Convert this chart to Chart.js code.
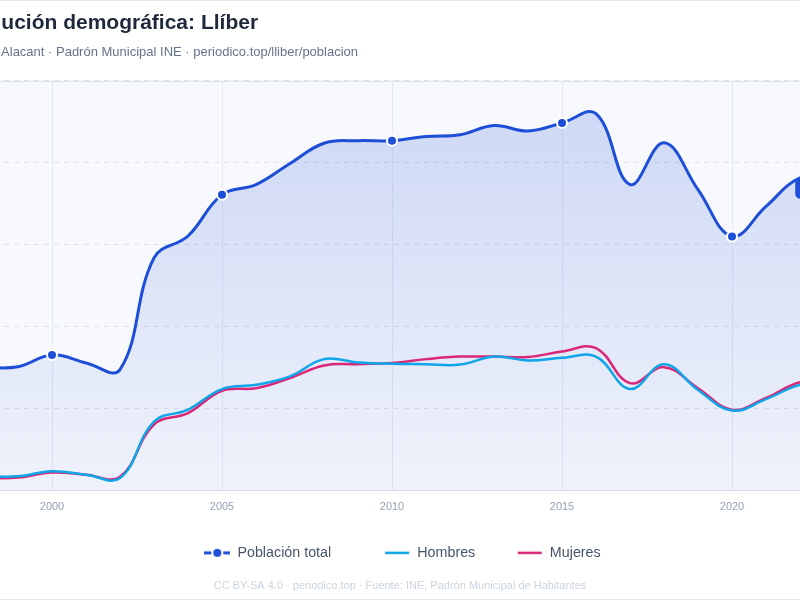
<!DOCTYPE html>
<html lang="es">
<head>
<meta charset="utf-8">
<title>Evolución demográfica: Llíber</title>
<script src="https://cdn.jsdelivr.net/npm/chart.js@4.4.1/dist/chart.umd.min.js"></script>
<style>
  html,body{margin:0;padding:0;background:#fff;overflow:hidden;width:800px;height:600px;}
  .card{position:absolute;left:-49px;top:0;width:896px;height:598px;border:1px solid #e2e8f0;background:#fff;}
  .card canvas{display:block;}
</style>
</head>
<body>
<div class="card"><canvas id="chart" width="896" height="598"></canvas></div>
<script>
// ===================== DATOS =====================
const years    = ['1998','1999','2000','2001','2002','2003','2004','2005','2006','2007','2008','2009','2010',
                  '2011','2012','2013','2014','2015','2016','2017','2018','2019','2020','2021','2022','2023'];
const totalPop = [520, 522, 550, 531, 515, 780, 832, 930, 954, 1004, 1052, 1058, 1058,
                  1068, 1072, 1094, 1081, 1100, 1122, 954, 1053, 942, 831, 902, 970, 975];
const hombres  = [262, 262, 274, 266, 258, 392, 420, 469, 479, 499, 540, 532, 529,
                  528, 527, 546, 537, 543, 546, 469, 528, 467, 418, 445, 479, 485];
const mujeres  = [258, 259, 271, 266, 261, 385, 412, 465, 471, 495, 525, 528, 531,
                  540, 546, 546, 545, 558, 566, 483, 521, 471, 420, 448, 485, 490];
const xLabelYears = ['2000','2005','2010','2015','2020'];
const Y_MIN = 228, Y_MAX = 1200, Y_STEP = 200;

const TITLE    = 'Evolución demográfica: Llíber';
const SUBTITLE = 'Llíber · Alacant · Padrón Municipal INE · periodico.top/lliber/poblacion';
const FOOTER   = 'CC BY-SA 4.0 · periodico.top · Fuente: INE, Padrón Municipal de Habitantes';

// ===================== ESTILO =====================
const BLUE = '#1d4ed8', CYAN = '#0ea5e9', PINK = '#db2777';
const FONT = "'Liberation Sans', Arial, sans-serif";
Chart.defaults.font.family = FONT;

const isLabelYear = i => xLabelYears.includes(years[i]);
// espacio tras cada entrada de la leyenda
const legendGaps = ['\u2003\u2003\u2003', '\u2003\u2003\u2009', ''];

// iconos de leyenda
function legendImg(draw){
  const c = document.createElement('canvas'); c.width = 26; c.height = 10;
  draw(c.getContext('2d')); return c;
}
const legendIcons = [
  legendImg(g=>{
    g.strokeStyle = BLUE; g.lineWidth = 3;
    g.beginPath(); g.moveTo(0,5); g.lineTo(7,5); g.moveTo(19,5); g.lineTo(26,5); g.stroke();
    g.fillStyle = BLUE; g.beginPath(); g.arc(13,5,4,0,Math.PI*2); g.fill();
  }),
  legendImg(g=>{ g.strokeStyle = CYAN; g.lineWidth = 2.5; g.beginPath(); g.moveTo(1,5); g.lineTo(25,5); g.stroke(); }),
  legendImg(g=>{ g.strokeStyle = PINK; g.lineWidth = 2.5; g.beginPath(); g.moveTo(1,5); g.lineTo(25,5); g.stroke(); })
];

// ── fondo del área de trazado ──
const plotBg = {
  id:'plotBg',
  beforeDraw(chart){
    const {ctx, chartArea:a} = chart;
    ctx.save();
    ctx.fillStyle = '#f8f9fc';
    ctx.fillRect(a.left, a.top, a.width, a.height);
    ctx.restore();
  },
  afterDraw(chart){
    const {ctx, chartArea:a} = chart;
    ctx.save();
    ctx.strokeStyle = '#d9dfe9'; ctx.lineWidth = 1;
    ctx.beginPath(); ctx.moveTo(a.left, a.top + 0.5); ctx.lineTo(a.right, a.top + 0.5); ctx.stroke();
    ctx.restore();
  }
};

// ── etiqueta del último valor ──
const endLabel = {
  id:'endLabel',
  afterDatasetsDraw(chart){
    const {ctx} = chart;
    const meta = chart.getDatasetMeta(0);
    const pt = meta.data[meta.data.length-1];
    if(!pt) return;
    const txt = `${years[years.length-1]}: ${totalPop[totalPop.length-1]}`;
    ctx.save();
    ctx.font = `bold 11px ${FONT}`;
    const w = ctx.measureText(txt).width + 28, h = 20;
    const x = pt.x - w/2, y = pt.y + 3;
    ctx.fillStyle = BLUE;
    ctx.beginPath(); ctx.roundRect(x, y, w, h, 5); ctx.fill();
    ctx.fillStyle = '#fff'; ctx.textAlign = 'center'; ctx.textBaseline = 'middle';
    ctx.fillText(txt, pt.x, y + h/2);
    ctx.restore();
  }
};

// ── pie de fuente ──
const footer = {
  id:'footer',
  afterDraw(chart){
    const {ctx} = chart;
    ctx.save();
    ctx.font = `11px ${FONT}`;
    ctx.fillStyle = '#cbd5e1'; ctx.textAlign = 'center'; ctx.textBaseline = 'middle';
    ctx.fillText(FOOTER, chart.width/2, chart.height - 13);
    ctx.restore();
  }
};

function fillGradient(c){
  const a = c.chart.chartArea;
  if(!a) return 'rgba(29,78,216,0.12)';
  const g = c.chart.ctx.createLinearGradient(0, a.top, 0, a.bottom);
  g.addColorStop(0, 'rgba(29,78,216,0.20)');
  g.addColorStop(1, 'rgba(29,78,216,0.04)');
  return g;
}

new Chart(document.getElementById('chart').getContext('2d'), {
  type:'line',
  data:{
    labels: years,
    datasets:[
      {label:'Población total', data: totalPop, borderColor: BLUE, borderWidth: 3,
       backgroundColor: fillGradient, fill:'start', tension: 0.4,
       pointRadius: c => isLabelYear(c.dataIndex) ? 5 : 0,
       pointBackgroundColor: BLUE, pointBorderColor:'#fff', pointBorderWidth: 2},
      {label:'Hombres', data: hombres, borderColor: CYAN, borderWidth: 2.5, fill:false, tension: 0.4, pointRadius: 0},
      {label:'Mujeres', data: mujeres, borderColor: PINK, borderWidth: 2.5, fill:false, tension: 0.4, pointRadius: 0}
    ]
  },
  options:{
    responsive:false, animation:false, events:[],
    layout:{padding:{top:7, left:5, right:0, bottom:29}},
    plugins:{
      filler:{drawTime:'beforeDatasetsDraw'},
      tooltip:{enabled:false},
      title:{display:true, text: TITLE, align:'start', color:'#1e293b',
             font:{size:21, weight:'bold'}, padding:{top:3, bottom:4}},
      subtitle:{display:true, text: SUBTITLE, align:'start', color:'#64748b',
             font:{size:13}, padding:{top:4, bottom:21}},
      legend:{position:'bottom',
        labels:{usePointStyle:true, pointStyleWidth:26, padding:10, color:'#475569', font:{size:14.3},
          generateLabels: chart => chart.data.datasets.map((ds,i)=>({
            text: ds.label + legendGaps[i],
            fillStyle: ds.borderColor, strokeStyle: ds.borderColor, lineWidth: 0,
            fontColor: '#475569',
            pointStyle: legendIcons[i], datasetIndex: i, hidden: false
          }))}}
    },
    scales:{
      x:{
        afterFit: s => { s.height = 45; },
        grid:{color: c => isLabelYear(c.index) ? '#e6e9f0' : 'transparent', drawTicks:false},
        border:{color:'#d9dfe9'},
        ticks:{autoSkip:false, maxRotation:0, padding:10, color:'#94a3b8', font:{size:11},
               callback:(v,i) => isLabelYear(i) ? years[i] : ''}
      },
      y:{
        min: Y_MIN, max: Y_MAX,
        afterFit: s => { s.width = 27; },
        grid:{color:'#dfe3ec', drawTicks:false},
        border:{display:false, dash:[5,5]},
        ticks:{stepSize: Y_STEP, padding:4, color:'#94a3b8', font:{size:11}}
      },
      yRight:{
        position:'right', afterFit: s => { s.width = 14; },
        grid:{display:false}, border:{display:false}, ticks:{display:false}
      }
    }
  },
  plugins:[plotBg, endLabel, footer]
});
</script>
</body>
</html>
